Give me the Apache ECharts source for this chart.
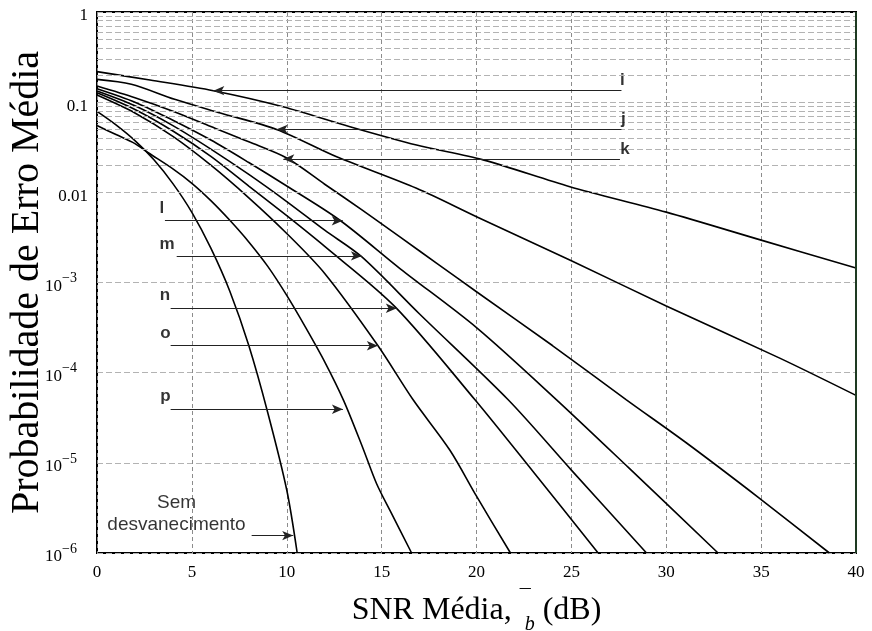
<!DOCTYPE html>
<html><head><meta charset="utf-8">
<script src="https://cdn.jsdelivr.net/npm/echarts@6/dist/echarts.min.js"></script>
<style>html,body{margin:0;padding:0;background:#fff}#c{width:872px;height:631px}</style>
</head><body><div id="c"></div>
<script>
// ---- data ----
const xTickValues = [0, 5, 10, 15, 20, 25, 30, 35, 40];
const yTickValues = [1e-6, 1e-5, 1e-4, 1e-3, 0.01, 0.1, 1];
const yTickText   = ['10|−6', '10|−5', '10|−4', '10|−3', '0.01', '0.1', '1'];

const snrI = [0, 2.79, 6.13, 9.8, 13.33, 16.84, 20.35, 24.92, 30, 35, 40];
const berI = [0.218, 0.176, 0.134, 0.0891, 0.0535, 0.0335, 0.0229, 0.01156, 0.00603, 0.00295, 0.00145];

const snrJ = [0, 1.81, 4.09, 6.5, 9.5, 12.63, 16.84, 20, 25, 30, 35.98, 40];
const berJ = [0.179, 0.158, 0.1076, 0.0759, 0.0495, 0.0248, 0.0111, 0.00537, 0.00174, 5.5e-4, 1.45e-4, 5.6e-5];

const snrK = [0, 2, 4, 6, 8, 10, 12, 14, 16, 18, 20, 24, 27.9, 31.07, 34.9, 38.6];
const berK = [0.151, 0.112, 0.0794, 0.0537, 0.0363, 0.024, 0.0123, 0.00631, 0.00316, 0.00158, 7.9e-4, 2.0e-4, 5.0e-5, 1.66e-5, 4.07e-6, 1e-6];

const snrL = [0, 2, 4, 6, 8, 10, 12.8, 16, 20, 24.22, 28, 32.73];
const berL = [0.141, 0.1, 0.063, 0.038, 0.0214, 0.01175, 0.0049, 0.00141, 3.16e-4, 5.0e-5, 8.9e-6, 1e-6];

const snrM = [0, 2, 4, 6, 8, 10, 12, 13.96, 17, 21.67, 25, 28.96];
const berM = [0.133, 0.0912, 0.055, 0.0302, 0.0158, 0.0079, 0.0038, 0.00192, 4.47e-4, 5.0e-5, 8.3e-6, 1e-6];

const snrN = [0, 2, 4, 6, 8, 10, 12, 15.7, 19.92, 23, 26.41];
const berN = [0.127, 0.083, 0.0479, 0.0251, 0.01175, 0.0055, 0.00251, 5.4e-4, 5.0e-5, 7.9e-6, 1e-6];

const snrO = [0, 2, 4, 6, 8, 10, 12, 14.8, 16.66, 18.6, 20, 21.79];
const berO = [0.12, 0.0759, 0.0417, 0.02, 0.0087, 0.0035, 0.00126, 2.0e-4, 5.0e-5, 1.38e-5, 4.27e-6, 1e-6];

const snrP = [0, 1, 2, 2.7, 4, 5, 6, 7, 8, 9, 10, 11, 12, 13, 14, 14.73, 15.5, 16.58];
const berP = [0.055, 0.0437, 0.0347, 0.0275, 0.0182, 0.0126, 0.0081, 0.0049, 0.00282, 0.00151, 7.2e-4, 3.16e-4, 1.32e-4, 4.9e-5, 1.48e-5, 5.9e-6, 2.8e-6, 1e-6];

const snrAwgn = [0, 1, 2, 3, 4, 5, 6, 7, 8, 9, 10, 10.55];
const berAwgn = [0.079, 0.056, 0.0375, 0.023, 0.0125, 0.006, 0.0024, 8e-4, 2e-4, 3.6e-5, 5e-6, 1e-6];

const curveNames = ['i', 'j', 'k', 'l', 'm', 'n', 'o', 'p', 'Sem desvanecimento'];
const curveX = [snrI, snrJ, snrK, snrL, snrM, snrN, snrO, snrP, snrAwgn];
const curveY = [berI, berJ, berK, berL, berM, berN, berO, berP, berAwgn];

// annotation arrows: [from], [to] in data units, label anchor
const arrowFrom = [[27.64, 0.134], [27.64, 0.05], [27.56, 0.02344], [3.58, 0.00484], [4.2, 0.00197], [3.88, 5.18e-4], [3.88, 1.99e-4], [3.88, 3.93e-5], [8.15, 1.56e-6]];
const arrowTo   = [[6.13, 0.134], [9.47, 0.05], [9.82, 0.02344], [12.95, 0.00484], [13.96, 0.00197], [15.8, 5.18e-4], [14.8, 1.99e-4], [12.96, 3.93e-5], [10.34, 1.56e-6]];
const labelText = ['i', 'j', 'k', 'l', 'm', 'n', 'o', 'p'];
const labelPos  = [[27.69, 0.176], [27.74, 0.0645], [27.82, 0.0303], [3.42, 0.00662], [3.69, 0.00267], [3.58, 7.27e-4], [3.61, 2.75e-4], [3.61, 5.5e-5]];
const awgnText = ['Sem', 'desvanecimento'];
const awgnTextPos = [[4.19, 3.59e-6], [4.19, 2.05e-6]];

// minor log grid values (2..9 per decade)
const minorGrid = [];
for (let e = -6; e < 0; e++) for (let k = 2; k <= 9; k++) minorGrid.push(k * Math.pow(10, e));

const chart = echarts.init(document.getElementById('c'), null, {renderer: 'canvas'});

const curveSeries = curveNames.map((name, idx) => ({
  name, type: 'line', z: 3,
  data: curveX[idx].map((x, i) => [x, curveY[idx][i]]),
  showSymbol: false, smooth: 0.3, clip: true,
  lineStyle: {color: '#000', width: 1.6},
  emphasis: {disabled: true},
  markLine: {
    silent: true, animation: false,
    symbol: ['none', 'arrow'], symbolSize: [7, 11],
    label: {show: false},
    lineStyle: {color: '#222', width: 1.2, type: 'solid'},
    emphasis: {disabled: true},
    data: [[{coord: arrowFrom[idx]}, {coord: arrowTo[idx]}]]
  }
}));

const gridSeries = {
  type: 'line', z: 1, data: [[0, null]], silent: true,
  markLine: {
    silent: true, animation: false, symbol: ['none', 'none'],
    label: {show: false},
    lineStyle: {color: '#b3b3b3', width: 1.2, type: [6, 3]},
    emphasis: {disabled: true},
    data: minorGrid.map(v => ({yAxis: v}))
  }
};

const rightBorder = {
  type: 'line', z: 5, data: [[40, null]], silent: true,
  markLine: {
    silent: true, animation: false, symbol: ['none', 'none'], label: {show: false},
    lineStyle: {color: '#1e3a22', width: 2, type: 'solid'},
    emphasis: {disabled: true},
    data: [{xAxis: 40}]
  }
};

const textSeries = {
  type: 'scatter', z: 6, symbolSize: 0, silent: true,
  data: labelText.map((t, i) => ({value: [labelPos[i][0], labelPos[i][1]], name: t})),
  label: {show: true, position: 'inside', formatter: p => p.name,
    fontFamily: 'Liberation Sans, Arial, sans-serif', fontWeight: 'bold', fontSize: 17, color: '#000'}
};
const awgnSeries = {
  type: 'scatter', z: 6, symbolSize: 0, silent: true,
  data: awgnText.map((t, i) => ({value: [awgnTextPos[i][0], awgnTextPos[i][1]], name: t})),
  label: {show: true, position: 'inside', formatter: p => p.name,
    fontFamily: 'Liberation Sans, Arial, sans-serif', fontSize: 19, color: '#000'}
};

chart.setOption({
  animation: false,
  backgroundColor: '#fff',
  grid: {left: 97, right: 16, top: 12, bottom: 78, containLabel: false, outerBoundsMode: 'none',
    show: true, borderColor: '#000', borderWidth: 2, backgroundColor: 'transparent'},
  xAxis: {
    type: 'value', min: 0, max: 40, interval: 5,
    axisLine: {show: false}, axisTick: {show: false},
    splitLine: {show: true, lineStyle: {color: '#8c8c8c', width: 1, type: [4, 3]}},
    axisLabel: {margin: 11, fontFamily: 'Liberation Serif, Times New Roman, serif', fontSize: 17, color: '#000',
      formatter: v => xTickValues.includes(v) ? String(v) : ''},
    name: '{t|SNR Média, }{m|¯}{s|b}{t| (dB)}',
    nameLocation: 'middle', nameGap: 34, nameMoveOverlap: false,
    nameTextStyle: {
      fontFamily: 'Liberation Serif, Times New Roman, serif', color: '#000',
      rich: {
        t: {fontFamily: 'Liberation Serif, Times New Roman, serif', fontSize: 32, lineHeight: 48, color: '#000'},
        m: {fontFamily: 'Liberation Serif, Times New Roman, serif', fontSize: 22, lineHeight: 30, verticalAlign: 'top', color: '#000'},
        s: {fontFamily: 'Liberation Serif, Times New Roman, serif', fontSize: 20, fontStyle: 'italic', lineHeight: 20, verticalAlign: 'bottom', color: '#000', padding: [0, 0, 0, -6]}
      }
    }
  },
  yAxis: {
    type: 'log', logBase: 10, min: 1e-6, max: 1,
    axisLine: {show: false}, axisTick: {show: false},
    splitLine: {show: true, lineStyle: {color: '#b3b3b3', width: 1.2, type: [6, 3]}},
    axisLabel: {
      margin: 9, padding: [8, 0, 0, 0],
      formatter: v => {
        const e = Math.round(Math.log10(v));
        const idx = yTickValues.findIndex(t => Math.round(Math.log10(t)) === e);
        if (idx < 0) return '';
        const parts = yTickText[idx].split('|');
        if (parts.length === 2) return '{b|' + parts[0] + '}{e|' + parts[1] + '}';
        return '{b|' + parts[0] + '}';
      },
      rich: {
        b: {fontFamily: 'Liberation Serif, Times New Roman, serif', fontSize: 17, lineHeight: 30, color: '#000'},
        e: {fontFamily: 'Liberation Serif, Times New Roman, serif', fontSize: 14, lineHeight: 14, verticalAlign: 'top', color: '#000', padding: [0, 11, 0, 0]}
      }
    },
    name: 'Probabilidade de Erro Média',
    nameLocation: 'middle', nameRotate: 90, nameGap: 50, nameMoveOverlap: false,
    nameTextStyle: {fontFamily: 'Liberation Serif, Times New Roman, serif', fontSize: 40, color: '#000'}
  },
  series: [gridSeries, ...curveSeries, textSeries, awgnSeries, rightBorder]
});
</script></body></html>
